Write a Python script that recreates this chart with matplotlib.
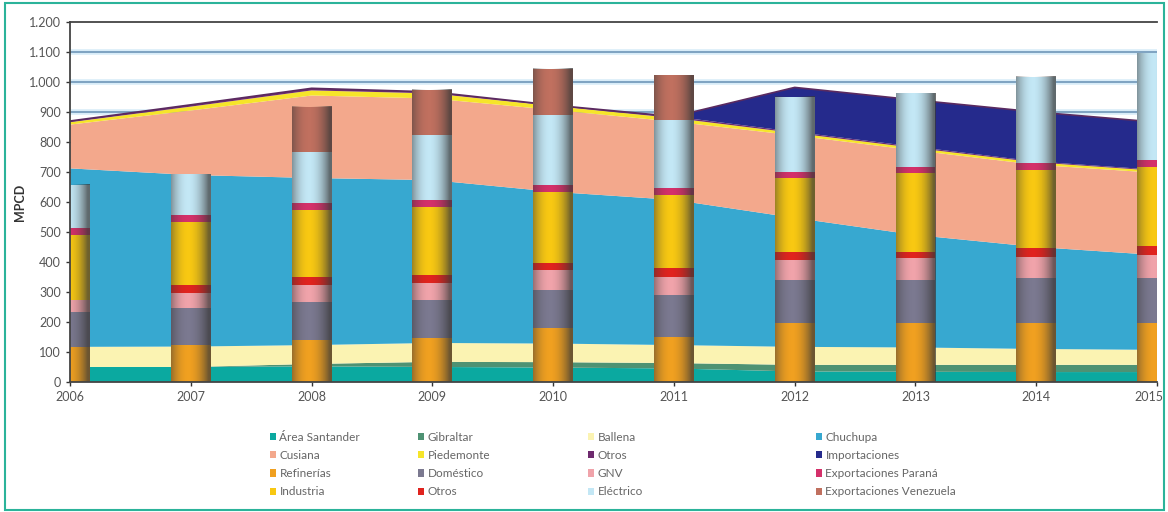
import numpy as np
import matplotlib
matplotlib.use("Agg")
from matplotlib import pyplot as plt
from matplotlib.patches import Patch, Rectangle
from matplotlib.ticker import FuncFormatter
from matplotlib.transforms import ScaledTranslation

plt.rcParams['font.family'] = ['Lato', 'DejaVu Sans']

years = [2006, 2007, 2008, 2009, 2010, 2011, 2012, 2013, 2014, 2015]

# supply (stacked areas), MPCD
santander = [50, 50, 52, 50, 48, 45, 35, 34, 33, 33]
gibraltar = [0, 0, 8, 17, 18, 18, 22, 23, 24, 24]
ballena = [67, 68, 63, 63, 62, 60, 60, 58, 53, 50]
chuchupa = [595, 572, 557, 543, 506, 484, 430, 375, 340, 316]
cusiana = [146, 215, 275, 272, 273, 261, 275, 282, 274, 274]
piedemonte = [8, 13, 17, 17, 13, 12, 8, 8, 8, 7]
otros_oferta = [4, 6, 7, 5, 3, 5, 4, 4, 3, 3]
importaciones = [0, 0, 0, 0, 0, 0, 148, 156, 165, 159]

# demand (stacked bars), MPCD
refinerias = [118, 123, 140, 147, 180, 150, 197, 197, 197, 197]
domestico = [116, 124, 128, 126, 127, 140, 143, 143, 149, 149]
gnv = [39, 50, 55, 57, 66, 60, 67, 72, 72, 78]
otros_demanda = [0, 26, 28, 27, 24, 30, 27, 22, 28, 28]
industria = [217, 211, 222, 227, 237, 243, 245, 262, 261, 266]
exp_parana = [23, 23, 24, 23, 23, 24, 22, 22, 22, 22]
electrico = [144, 136, 171, 216, 233, 226, 250, 244, 289, 356]
exp_venezuela = [0, 0, 150, 152, 155, 150, 0, 0, 0, 0]

supply = [
    ("Área Santander", santander, "#0ba9a0"),
    ("Gibraltar", gibraltar, "#4e9273"),
    ("Ballena", ballena, "#fbf3b2"),
    ("Chuchupa", chuchupa, "#37a8d0"),
    ("Cusiana", cusiana, "#f3a88c"),
    ("Piedemonte", piedemonte, "#f6e52a"),
    ("Otros", otros_oferta, "#6e2a6e"),
    ("Importaciones", importaciones, "#252a8c"),
]
demand = [
    ("Refinerías", refinerias, "#f0a020"),
    ("Doméstico", domestico, "#7b7990"),
    ("GNV", gnv, "#f0a3aa"),
    ("Otros", otros_demanda, "#e0231e"),
    ("Industria", industria, "#f8c812"),
    ("Exportaciones Paraná", exp_parana, "#d4306a"),
    ("Eléctrico", electrico, "#c3e7f5"),
    ("Exportaciones Venezuela", exp_venezuela, "#c0705f"),
]

fig = plt.figure(figsize=(11.68, 5.12), dpi=100)
ax = fig.add_axes([0.06, 0.254, 0.9306, 0.703])

# grid lines behind everything
for g in [900, 1000, 1100]:
    ax.axhline(g, color="#d8ecf8", lw=4, zorder=0.3)
    ax.axhline(g, color="#6f96b8", lw=1.2, zorder=0.4)

ax.stackplot(years, *[s[1] for s in supply], colors=[s[2] for s in supply],
             linewidth=0, zorder=1)
top = np.sum([s[1] for s in supply], axis=0)
ax.plot(years, top, color="#5a2a60", lw=1.2, zorder=1.1)

# cylinder-like bars
w = 0.33
bottom = np.zeros(len(years))
for name, vals, col in demand:
    ax.bar(years, vals, width=w, bottom=bottom, color=col, linewidth=0, zorder=2)
    bottom = bottom + np.array(vals)

u = np.linspace(-1, 1, 64)
alpha = 0.66 * np.abs(u + 0.15) ** 2.0
alpha = np.clip(alpha, 0, 0.72)
shade = np.zeros((1, 64, 4))
shade[0, :, 0:3] = 0.22
shade[0, :, 3] = alpha
for x, h in zip(years, bottom):
    ax.imshow(shade, extent=(x - w / 2, x + w / 2, 0, h), aspect="auto",
              interpolation="bilinear", zorder=2.5)

ax.set_xlim(2006, 2015)
ax.set_ylim(0, 1200)
ax.set_xticks(years)
ax.set_yticks(range(0, 1201, 100))
ax.yaxis.set_major_formatter(FuncFormatter(lambda v, p: f"{int(v):,}".replace(",", ".")))
ax.tick_params(axis="both", direction="out", length=3, width=1, color="#333333",
               labelsize=9, labelcolor="#555555")
for sp in ["left", "bottom", "top"]:
    ax.spines[sp].set_color("#444444")
    ax.spines[sp].set_linewidth(1.3)
ax.spines["right"].set_visible(False)
ax.spines["top"].set_zorder(0.5)
ax.set_ylabel("MPCD", fontsize=9, fontweight="bold", color="#333333", labelpad=2)

# keep the last year label inside the frame
last = ax.get_xticklabels()[-1]
last.set_transform(last.get_transform() + ScaledTranslation(-6 / 72, 0, fig.dpi_scale_trans))

# legend, 4 columns filled row by row
entries = [
    supply[0], supply[1], supply[2], supply[3],
    supply[4], supply[5], supply[6], supply[7],
    demand[0], demand[1], demand[2], demand[5],
    demand[4], demand[3], demand[6], demand[7],
]
col_x = [270, 418, 588, 816]
for c in range(4):
    items = entries[c::4]
    handles = [Patch(facecolor=e[2], edgecolor="none") for e in items]
    fig.legend(handles, [e[0] for e in items], loc="upper left",
               bbox_to_anchor=(col_x[c] / 1168, 1 - 432 / 512), frameon=False,
               fontsize=8.5, labelcolor="#666666", handlelength=0.55,
               handleheight=0.55, handletextpad=0.25, labelspacing=0.6,
               borderpad=0, borderaxespad=0)

fig.add_artist(Rectangle((0.004, 0.004), 0.993, 0.99, transform=fig.transFigure,
                         fill=False, edgecolor="#2bb39a", lw=1.5))

fig.savefig("out.png", dpi=100)
